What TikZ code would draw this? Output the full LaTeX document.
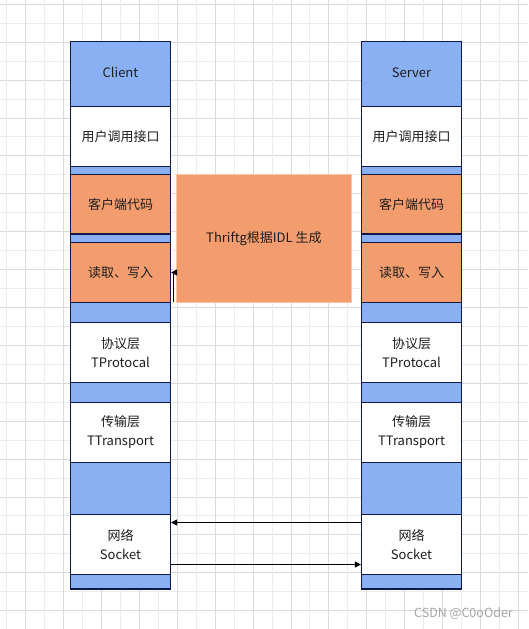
\documentclass[tikz,border=0pt]{standalone}
\usepackage{fontspec}
\setmainfont{Noto Sans CJK SC}
\usetikzlibrary{arrows.meta,calc}
\definecolor{lblue}{RGB}{137,176,243}
\definecolor{lorange}{RGB}{243,157,110}
\definecolor{navy}{RGB}{16,24,72}
\definecolor{griddark}{RGB}{218,218,218}
\definecolor{gridlight}{RGB}{236,236,236}
\definecolor{txt}{RGB}{30,30,30}
\tikzset{
  colbg/.style={draw=navy, line width=1.2pt, fill=lblue, minimum width=100pt, inner sep=0pt},
  layer/.style={draw=navy, line width=1.2pt, minimum width=100pt, minimum height=60pt,
    inner sep=0pt, align=center, text=txt, font=\fontsize{13}{19}\selectfont},
  bluel/.style={layer, fill=lblue},
  whitel/.style={layer, fill=white},
  orangel/.style={layer, fill=lorange},
  conn/.style={line width=1pt, draw=black, -{Triangle[length=6pt,width=6pt]}},
}
\begin{document}
\begin{tikzpicture}[x=1pt,y=-1pt]
\useasboundingbox (0,0) rectangle (528,629);
\fill[white] (0,0) rectangle (528,629);
% grid
\foreach \k in {0,...,33}{
  \ifodd\k \def\gc{gridlight}\else\def\gc{griddark}\fi
  \draw[\gc, line width=1pt] (0,{4.3+18.95*\k}) -- (528,{4.3+18.95*\k});
}
\foreach \k in {0,...,27}{
  \ifodd\k \def\gc{griddark}\else\def\gc{gridlight}\fi
  \draw[\gc, line width=1pt] ({6.75+18.95*\k},0) -- ({6.75+18.95*\k},629);
}
% columns
\foreach \s/\cx/\title in {L/120.5/Client, R/411.5/Server}{
  \node[colbg, minimum height=547.5pt] (\s-col) at (\cx,315.25) {};
  \node[bluel, minimum height=65pt] (\s-client) at (\cx,74) {\raisebox{3pt}{\title}};
  \node[whitel] (\s-api) at (\cx,136.5) {用户调用接口};
  \node[orangel, minimum height=59.5pt] (\s-code) at (\cx,204.25) {客户端代码};
  \node[orangel] (\s-rw) at (\cx,272.5) {读取、写入};
  \node[whitel] (\s-proto) at (\cx,352.5) {协议层\\TProtocal};
  \node[whitel] (\s-trans) at (\cx,432.5) {传输层\\TTransport};
  \node[whitel] (\s-net) at (\cx,544.5) {网络\\Socket};
}
% generator box
\node[fill=lorange, draw=lorange!60, line width=1pt, minimum width=175.5pt, minimum height=128pt,
  inner sep=0pt, text=txt, font=\fontsize{13}{19}\selectfont] (gen) at (263.9,238.3) {Thriftg根据IDL 生成};
\coordinate (genfoot) at (173.5,302.3);
\draw[conn] (genfoot) |- (L-rw.east);
% network arrows
\draw[conn] ($(R-net.west)+(0,-22)$) -- ($(L-net.east)+(0,-22)$);
\draw[conn] ($(L-net.east)+(0,20)$) -- ($(R-net.west)+(0,20)$);
% watermark
\node[anchor=east, inner sep=0pt, text=gray!70, font=\fontsize{12.5}{14}\selectfont] (wm) at (513,614) {CSDN @C0oOder};
\end{tikzpicture}
\end{document}
